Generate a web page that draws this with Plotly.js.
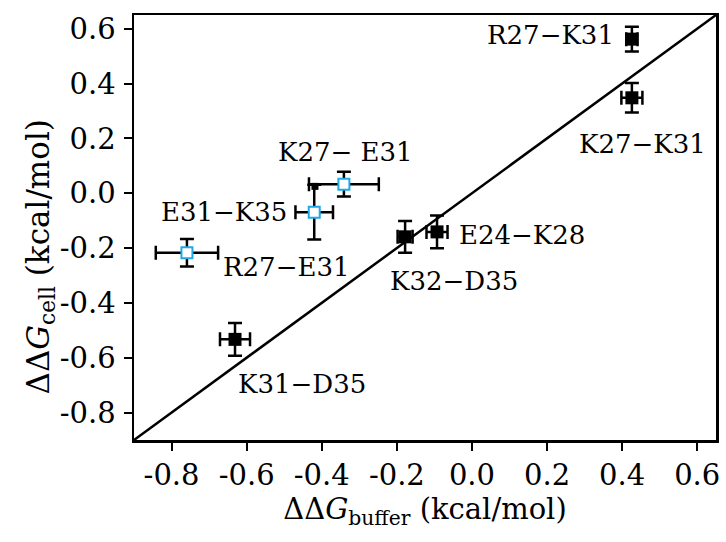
<!DOCTYPE html>
<html>
<head>
<meta charset="utf-8">
<script src="https://cdn.plot.ly/plotly-3.0.1.min.js"></script>
<style>html,body{margin:0;padding:0;background:#fff;}</style>
</head>
<body>
<div id="chart" style="width:726px;height:542px;"></div>
<script>
// ---- data ----
const pairNames = ['R27\u2212K31', 'K27\u2212K31', 'K27\u2212 E31', 'E31\u2212K35', 'R27\u2212E31', 'K32\u2212D35', 'E24\u2212K28', 'K31\u2212D35'];
const ddGbuffer = [0.426, 0.426, -0.341, -0.42, -0.759, -0.178, -0.093, -0.631];
const ddGcell   = [0.562, 0.348, 0.033, -0.069, -0.217, -0.159, -0.141, -0.533];
const errBuffer = [0.015, 0.028, 0.093, 0.05, 0.083, 0.02, 0.028, 0.04];
const errCell   = [0.045, 0.054, 0.045, 0.1, 0.05, 0.058, 0.06, 0.06];
const markerKind = ['filled', 'filled', 'open', 'open', 'open', 'filled', 'filled', 'filled'];
const extraX = [-0.418];
const extraY = [0.025];
const tickVals = [-0.8, -0.6, -0.4, -0.2, 0.0, 0.2, 0.4, 0.6];
const tickText = ['-0.8', '-0.6', '-0.4', '-0.2', '0.0', '0.2', '0.4', '0.6'];
const axisRange = [-0.9, 0.65];
const xTitle = '\u0394\u0394<i>G</i><sub>buffer</sub> (kcal/mol)';
const yTitle = '\u0394\u0394<i>G</i><sub>cell</sub> (kcal/mol)';

// ---- label offsets (pixels) ----
const labelShift = [[-81, 4], [11, -46], [2, 32], [-90, 0], [100, -14], [49, -44], [85, -3], [67, -45]];

function pick(arr, kind) { return arr.filter((_, i) => markerKind[i] === kind); }

const font = 'DejaVu Serif';

const diag = {
  x: axisRange, y: axisRange, mode: 'lines', type: 'scatter',
  line: {color: '#000', width: 2.5}, hoverinfo: 'skip', showlegend: false
};

function errTrace(kind, marker) {
  return {
    x: pick(ddGbuffer, kind), y: pick(ddGcell, kind), type: 'scatter', mode: 'markers',
    error_x: {type: 'data', array: pick(errBuffer, kind), visible: true, color: '#000', thickness: 2.5, width: 7},
    error_y: {type: 'data', array: pick(errCell, kind), visible: true, color: '#000', thickness: 2.5, width: 7},
    marker: marker, showlegend: false
  };
}

const filled = errTrace('filled', {symbol: 'square', size: 13, color: '#000', line: {width: 0}});
const open = errTrace('open', {symbol: 'square', size: 11, color: '#fff', line: {color: '#1fa9e6', width: 2}});
const extra = {x: extraX, y: extraY, type: 'scatter', mode: 'markers',
  marker: {symbol: 'square', size: 7, color: '#000'}, showlegend: false};

const annotations = pairNames.map((t, i) => ({
  x: ddGbuffer[i], y: ddGcell[i], xref: 'x', yref: 'y', text: t, showarrow: false,
  xanchor: 'center', yanchor: 'middle', xshift: labelShift[i][0], yshift: labelShift[i][1],
  font: {family: font, size: 26, color: '#000'}
}));
annotations.push({
  x: 0, y: 0.5, xref: 'paper', yref: 'paper', xshift: -94, yshift: -30,
  text: yTitle, textangle: -90, showarrow: false, xanchor: 'center', yanchor: 'middle',
  font: {family: font, size: 31, color: '#000'}
});

const axisCommon = {
  range: axisRange, tickmode: 'array', tickvals: tickVals, ticktext: tickText,
  ticks: 'outside', ticklen: 8, tickwidth: 2, tickcolor: '#000',
  showline: true, linecolor: '#000', linewidth: 2.5, mirror: true,
  showgrid: false, zeroline: false, automargin: false,
  tickfont: {family: font, size: 29, color: '#000'}
};

const layout = {
  width: 726, height: 542,
  margin: {l: 134, r: 10, t: 15, b: 102},
  paper_bgcolor: '#fff', plot_bgcolor: '#fff',
  font: {family: font, color: '#000'},
  xaxis: Object.assign({}, axisCommon, {
    title: {text: xTitle, font: {family: font, size: 29, color: '#000'}, standoff: 6}
  }),
  yaxis: Object.assign({}, axisCommon, {ticklabelstandoff: 2}),
  annotations: annotations
};

Plotly.newPlot('chart', [diag, filled, open, extra], layout, {displayModeBar: false, staticPlot: true});
</script>
</body>
</html>
